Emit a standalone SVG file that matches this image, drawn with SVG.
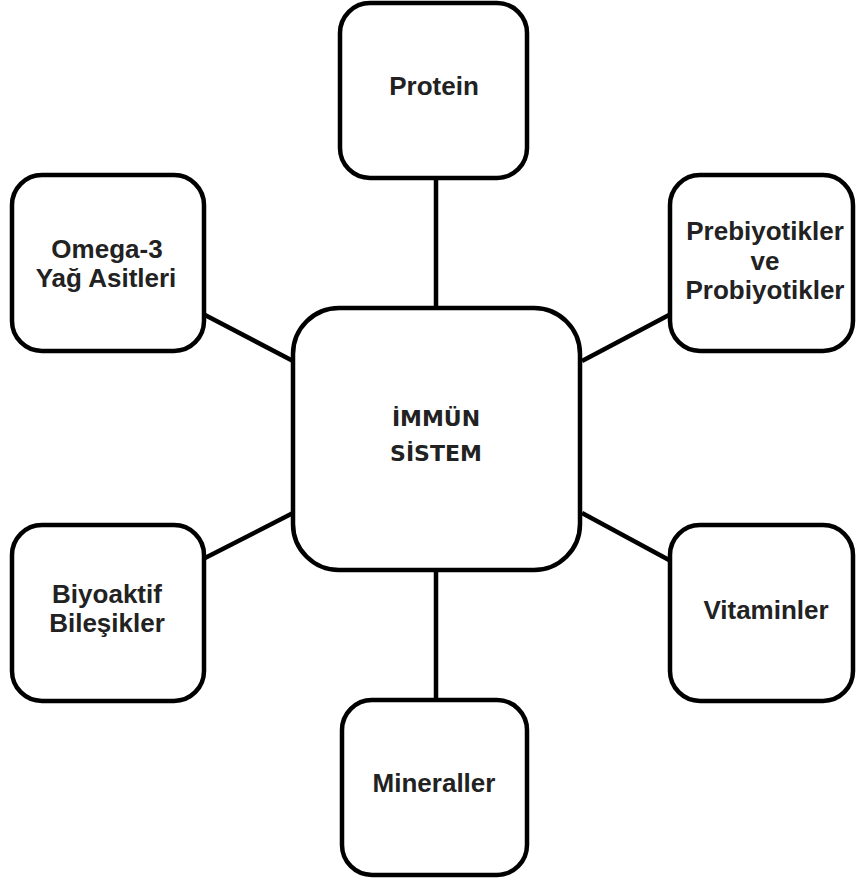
<svg xmlns="http://www.w3.org/2000/svg" width="856" height="878" viewBox="0 0 856 878">
<style>
.box{fill:#fff;stroke:#000;stroke-width:4.5}
.lbl{font-family:"Liberation Sans",Arial,sans-serif;font-weight:bold;font-size:26px;fill:#222;text-anchor:middle}
.ctr{font-family:"DejaVu Sans",Verdana,sans-serif;font-weight:bold;font-size:22px;fill:#222;text-anchor:middle}
.con{stroke:#000;stroke-width:4.5;fill:none}
</style>
<rect width="856" height="878" fill="#fff"/>
<g id="connectors">
<line class="con" x1="436" y1="178" x2="436" y2="308"/>
<line class="con" x1="436" y1="570" x2="436" y2="700"/>
<line class="con" x1="205" y1="315" x2="293" y2="361"/>
<line class="con" x1="582" y1="361" x2="669" y2="315"/>
<line class="con" x1="293" y1="513" x2="205" y2="558"/>
<line class="con" x1="582" y1="513" x2="669" y2="560"/>
</g>
<g id="center">
<rect class="box" x="293" y="308" width="287" height="262" rx="46"/>
<text class="ctr" x="436" y="426">İMMÜN</text>
<text class="ctr" x="436" y="461">SİSTEM</text>
</g>
<g id="protein">
<rect class="box" x="340" y="3" width="187" height="175" rx="30"/>
<text class="lbl" x="434" y="95">Protein</text>
</g>
<g id="omega3">
<rect class="box" x="12" y="175" width="192" height="176" rx="30"/>
<text class="lbl" x="107" y="258">Omega-3</text>
<text class="lbl" x="106" y="287">Yağ Asitleri</text>
</g>
<g id="prebiyotik">
<rect class="box" x="670" y="175" width="183" height="176" rx="30"/>
<text class="lbl" x="765" y="240">Prebiyotikler</text>
<text class="lbl" x="765" y="270">ve</text>
<text class="lbl" x="765" y="299">Probiyotikler</text>
</g>
<g id="biyoaktif">
<rect class="box" x="12" y="525" width="192" height="176" rx="30"/>
<text class="lbl" x="107" y="603">Biyoaktif</text>
<text class="lbl" x="107" y="632">Bileşikler</text>
</g>
<g id="vitaminler">
<rect class="box" x="670" y="525" width="183" height="176" rx="30"/>
<text class="lbl" x="766" y="619">Vitaminler</text>
</g>
<g id="mineraller">
<rect class="box" x="342" y="700" width="185" height="175" rx="30"/>
<text class="lbl" x="434" y="792">Mineraller</text>
</g>
</svg>
